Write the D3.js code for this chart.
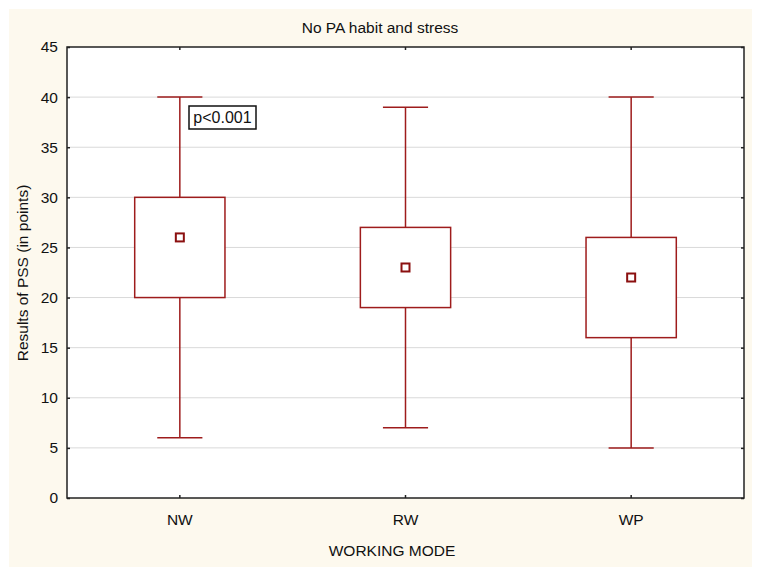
<!DOCTYPE html>
<html>
<head>
<meta charset="utf-8">
<script src="https://cdn.jsdelivr.net/npm/d3@7"></script>
<style>
  body { margin: 0; background: #fff; }
  text { font-family: Arial, "Liberation Sans", sans-serif; fill: #111; }
</style>
</head>
<body>
<svg id="chart" width="764" height="576"></svg>
<script>
// working modes and their box stats
const categories = ["NW", "RW", "WP"];
const minVals = [6, 7, 5];
const q1Vals = [20, 19, 16];
const meanVals = [26, 23, 22];
const q3Vals = [30, 27, 26];
const maxVals = [40, 39, 40];
const yTicks = [0, 5, 10, 15, 20, 25, 30, 35, 40, 45];

const svg = d3.select("#chart");
const margin = { left: 67, right: 20, top: 47, bottom: 78 };
const W = 764, H = 576;
const red = "#9e1c1c";
const fs = 15.5;

// cream panel
svg.append("rect")
  .attr("x", 9).attr("y", 9)
  .attr("width", 743).attr("height", 558)
  .attr("fill", "#fdf9ee");

const x = d3.scaleBand()
  .domain(categories)
  .range([margin.left, W - margin.right])
  .padding(0);

const y = d3.scaleLinear()
  .domain([0, 45])
  .range([H - margin.bottom, margin.top]);

// plot area
svg.append("rect")
  .attr("x", margin.left).attr("y", margin.top)
  .attr("width", W - margin.right - margin.left)
  .attr("height", H - margin.bottom - margin.top)
  .attr("fill", "#fff");

// grid
svg.append("g")
  .selectAll("line")
  .data(yTicks.filter(d => d > 0 && d < 45))
  .join("line")
  .attr("x1", margin.left).attr("x2", W - margin.right)
  .attr("y1", d => y(d)).attr("y2", d => y(d))
  .attr("stroke", "#d9d9d9")
  .attr("stroke-width", 1);

const data = categories.map((c, i) => ({
  cat: c, min: minVals[i], q1: q1Vals[i], mean: meanVals[i], q3: q3Vals[i], max: maxVals[i]
}));

const boxW = x.bandwidth() * 0.4;
const capW = x.bandwidth() * 0.2;

const g = svg.append("g")
  .selectAll("g")
  .data(data)
  .join("g")
  .attr("transform", d => `translate(${x(d.cat) + x.bandwidth() / 2},0)`);

// whiskers
g.append("line")
  .attr("x1", 0).attr("x2", 0)
  .attr("y1", d => y(d.max)).attr("y2", d => y(d.min))
  .attr("stroke", red).attr("stroke-width", 1.5);

g.selectAll(".cap")
  .data(d => [d.min, d.max])
  .join("line")
  .attr("x1", -capW / 2).attr("x2", capW / 2)
  .attr("y1", d => y(d)).attr("y2", d => y(d))
  .attr("stroke", red).attr("stroke-width", 1.5);

// boxes
g.append("rect")
  .attr("x", -boxW / 2)
  .attr("y", d => y(d.q3))
  .attr("width", boxW)
  .attr("height", d => y(d.q1) - y(d.q3))
  .attr("fill", "#fff")
  .attr("stroke", red).attr("stroke-width", 1.5);

// mean marker
g.append("rect")
  .attr("x", -4)
  .attr("y", d => y(d.mean) - 4)
  .attr("width", 8).attr("height", 8)
  .attr("fill", "#fff")
  .attr("stroke", "#8b1010").attr("stroke-width", 2);

// axes frame
svg.append("rect")
  .attr("x", margin.left).attr("y", margin.top)
  .attr("width", W - margin.right - margin.left)
  .attr("height", H - margin.bottom - margin.top)
  .attr("fill", "none")
  .attr("stroke", "#222").attr("stroke-width", 1.5);

const yAxis = svg.append("g")
  .attr("transform", `translate(${margin.left},0)`)
  .call(d3.axisLeft(y).tickValues(yTicks).tickSize(-3).tickPadding(9));
yAxis.select(".domain").remove();
yAxis.selectAll("text").attr("font-size", fs).attr("fill", "#111");

svg.append("g")
  .attr("transform", `translate(${W - margin.right},0)`)
  .call(d3.axisRight(y).tickValues(yTicks).tickSize(-3).tickFormat(""))
  .select(".domain").remove();

const xAxis = svg.append("g")
  .attr("transform", `translate(0,${H - margin.bottom})`)
  .call(d3.axisBottom(x).tickSize(-3).tickPadding(16));
xAxis.select(".domain").remove();
xAxis.selectAll("text").attr("font-size", fs).attr("fill", "#111");

svg.append("g")
  .attr("transform", `translate(0,${margin.top})`)
  .call(d3.axisTop(x).tickSize(-3).tickFormat(""))
  .select(".domain").remove();

svg.selectAll(".tick line").attr("stroke", "#222").attr("stroke-width", 1.5);
svg.selectAll(".tick text").attr("font-family", "Arial, 'Liberation Sans', sans-serif");

// titles
svg.append("text")
  .attr("x", 380).attr("y", 33)
  .attr("text-anchor", "middle")
  .attr("font-size", fs)
  .text("No PA habit and stress");

svg.append("text")
  .attr("x", 392).attr("y", 556)
  .attr("text-anchor", "middle")
  .attr("font-size", fs)
  .text("WORKING MODE");

svg.append("text")
  .attr("transform", "translate(28,273) rotate(-90)")
  .attr("text-anchor", "middle")
  .attr("font-size", fs)
  .text("Results of PSS (in points)");

// p-value label
const pg = svg.append("g").attr("transform", "translate(189,106)");
pg.append("rect")
  .attr("width", 67).attr("height", 23)
  .attr("fill", "#fff")
  .attr("stroke", "#111").attr("stroke-width", 1.5);
pg.append("text")
  .attr("x", 33.5).attr("y", 17)
  .attr("text-anchor", "middle")
  .attr("font-size", 16)
  .text("p<0.001");
</script>
</body>
</html>
